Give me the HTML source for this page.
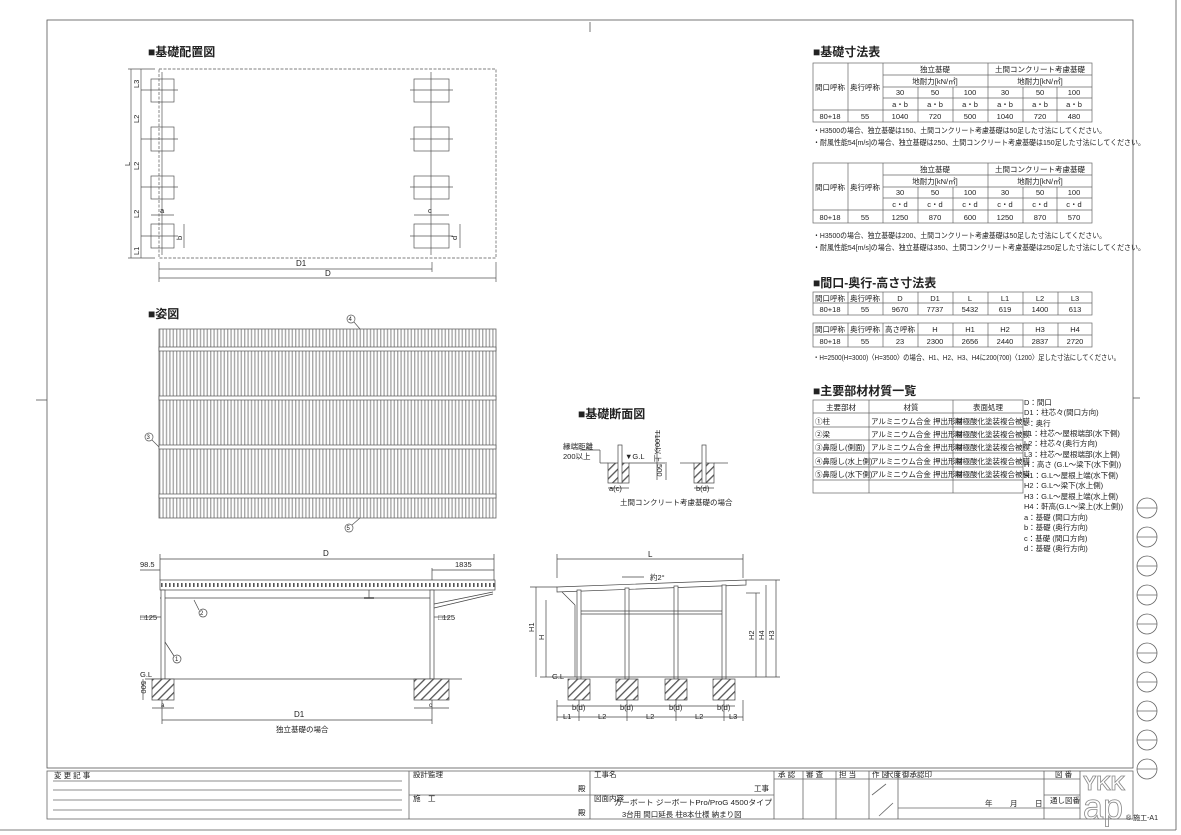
<!DOCTYPE html>
<html><head><meta charset="utf-8"><style>
html,body{margin:0;padding:0;background:#fff;}
svg{display:block;}
text{font-family:"Liberation Sans","Noto Sans CJK JP",sans-serif;fill:#222;}
.s{font-size:7.5px;}
.h{font-size:12px;font-weight:bold;}
</style></head><body>
<svg width="1181" height="835" viewBox="0 0 1181 835" xmlns="http://www.w3.org/2000/svg">
<defs>
<pattern id="roof" x="159" y="0" width="3.4" height="10" patternUnits="userSpaceOnUse">
<rect width="3.4" height="10" fill="#fff"/><rect x="0" width="1.4" height="10" fill="#a8a8a8"/>
</pattern>
<pattern id="hatch" width="6" height="6" patternUnits="userSpaceOnUse" patternTransform="rotate(45)">
<rect width="6" height="6" fill="#fff"/><rect width="1.3" height="6" fill="#555"/>
</pattern>
<pattern id="perf" x="160" y="580" width="4" height="10" patternUnits="userSpaceOnUse">
<rect width="4" height="10" fill="#fff"/><rect x="1" y="3" width="1.6" height="4" fill="#555"/>
</pattern>
</defs>
<g stroke="#555" stroke-width="0.8" fill="none">
<rect x="47" y="20" width="1086" height="748"/>
<line x1="1176" y1="0" x2="1176" y2="830"/>
<line x1="0" y1="830" x2="1176" y2="830"/>
<line x1="590" y1="22" x2="590" y2="32"/>
<line x1="36" y1="400" x2="47" y2="400"/>
<line x1="1133" y1="398" x2="1140" y2="398"/>
</g>
<g stroke="#666" stroke-width="0.8" fill="none">
<g id="c1"><circle cx="1147" cy="508" r="10"/><line x1="1137" y1="508" x2="1157" y2="508"/></g>
<use href="#c1" y="29"/><use href="#c1" y="58"/><use href="#c1" y="87"/><use href="#c1" y="116"/>
<use href="#c1" y="145"/><use href="#c1" y="174"/><use href="#c1" y="203"/><use href="#c1" y="232"/><use href="#c1" y="261"/>
</g>

<text x="148" y="56" class="h">■基礎配置図</text>
<g stroke="#555" stroke-width="0.7" fill="none">
<rect x="159" y="69" width="337" height="189" stroke-dasharray="3,1.5"/>
<g>
<rect x="151" y="79" width="23" height="23"/><rect x="151" y="127" width="23" height="24"/>
<rect x="151" y="176" width="23" height="23"/><rect x="151" y="224" width="23" height="24"/>
<rect x="414" y="79" width="35" height="23"/><rect x="414" y="127" width="35" height="24"/>
<rect x="414" y="176" width="35" height="23"/><rect x="414" y="224" width="35" height="24"/>
<line x1="162" y1="72" x2="162" y2="255"/><line x1="431" y1="72" x2="431" y2="255"/>
<line x1="141" y1="90" x2="178" y2="90"/><line x1="141" y1="139" x2="178" y2="139"/>
<line x1="141" y1="187" x2="178" y2="187"/><line x1="141" y1="236" x2="178" y2="236"/>
<line x1="410" y1="90" x2="453" y2="90"/><line x1="410" y1="139" x2="453" y2="139"/>
<line x1="410" y1="187" x2="453" y2="187"/><line x1="410" y1="236" x2="453" y2="236"/>
</g>
<line x1="131" y1="69" x2="131" y2="258"/><line x1="141" y1="69" x2="141" y2="258"/>
<line x1="128" y1="69" x2="155" y2="69"/><line x1="128" y1="258" x2="155" y2="258"/>
<line x1="151" y1="215" x2="174" y2="215"/><line x1="414" y1="215" x2="449" y2="215"/>
<line x1="184" y1="224" x2="184" y2="248"/><line x1="460" y1="224" x2="460" y2="248"/>
<line x1="159" y1="269" x2="432" y2="269"/><line x1="159" y1="278" x2="496" y2="278"/>
<line x1="159" y1="262" x2="159" y2="282"/><line x1="432" y1="262" x2="432" y2="272"/><line x1="496" y1="262" x2="496" y2="282"/>
</g>
<g class="s">
<text x="296" y="266" font-size="8">D1</text><text x="325" y="276" font-size="8">D</text>
<text x="160" y="213">a</text><text x="428" y="213">c</text>
<text transform="translate(139,88) rotate(-90)">L3</text>
<text transform="translate(139,123) rotate(-90)">L2</text>
<text transform="translate(139,170) rotate(-90)">L2</text>
<text transform="translate(139,218) rotate(-90)">L2</text>
<text transform="translate(139,255) rotate(-90)">L1</text>
<text transform="translate(130,166) rotate(-90)">L</text>
<text transform="translate(182,240) rotate(-90)">b</text>
<text transform="translate(457,240) rotate(-90)">d</text>
</g>

<text x="148" y="318" class="h">■姿図</text>
<rect x="159" y="329" width="337" height="189" fill="url(#roof)" stroke="#666" stroke-width="0.8"/>
<g fill="#fff" stroke="#555" stroke-width="0.7">
<rect x="159" y="347" width="337" height="4"/><rect x="159" y="396" width="337" height="4"/>
<rect x="159" y="445" width="337" height="4"/><rect x="159" y="494" width="337" height="4"/>
</g>
<g fill="none" stroke="#555" stroke-width="0.7">
<circle cx="351" cy="319" r="4"/><line x1="354" y1="322" x2="360" y2="329"/>
<circle cx="149" cy="437" r="4"/><line x1="152" y1="440" x2="159" y2="447"/>
<circle cx="349" cy="528" r="4"/><line x1="352" y1="525" x2="360" y2="518"/>
</g>
<g font-size="6"><text x="348.5" y="321">4</text><text x="146.5" y="439">3</text><text x="346.5" y="530">5</text></g>

<text x="578" y="418" class="h">■基礎断面図</text>
<g stroke="#444" stroke-width="0.7" fill="none">
<line x1="600" y1="463" x2="608" y2="463"/><line x1="629" y1="463" x2="665" y2="463"/>
<rect x="608" y="463" width="21" height="20" fill="url(#hatch)"/>
<rect x="618" y="445" width="4" height="38" fill="#fff"/>
<line x1="680" y1="463" x2="694" y2="463"/><line x1="714" y1="463" x2="728" y2="463"/>
<rect x="694" y="463" width="20" height="20" fill="url(#hatch)"/>
<rect x="702" y="445" width="4" height="38" fill="#fff"/>
<line x1="657" y1="430" x2="657" y2="480"/><line x1="666" y1="462" x2="666" y2="480"/>
<line x1="608" y1="488" x2="629" y2="488"/><line x1="694" y1="488" x2="714" y2="488"/>
<line x1="580" y1="450" x2="600" y2="450"/><line x1="600" y1="450" x2="600" y2="463"/>
</g>
<g class="s" font-size="7">
<text x="563" y="449">縁端距離</text><text x="563" y="459">200以上</text>
<text x="625" y="459">▼G.L</text>
<text transform="translate(655,430) rotate(90)">T100以上</text>
<text transform="translate(657,464) rotate(90)">500</text>
<text x="609" y="491">a(c)</text><text x="696" y="491">b(d)</text>
<text x="620" y="505">土間コンクリート考慮基礎の場合</text>
</g>

<g stroke="#444" stroke-width="0.7" fill="none">
<line x1="160" y1="559" x2="494" y2="559"/><line x1="160" y1="554" x2="160" y2="580"/><line x1="494" y1="554" x2="494" y2="580"/>
<line x1="432" y1="570" x2="494" y2="570"/><line x1="432" y1="568" x2="432" y2="580"/>
<line x1="140" y1="570" x2="160" y2="570"/>
<rect x="160" y="580" width="335" height="10" fill="url(#perf)"/>
<line x1="160" y1="598" x2="432" y2="598"/>
<line x1="369" y1="590" x2="369" y2="598"/><line x1="364" y1="598" x2="374" y2="598" stroke-width="1.5"/>
<rect x="161" y="590" width="4" height="89" fill="#fff"/>
<rect x="430" y="590" width="4" height="89" fill="#fff"/>
<line x1="434" y1="604" x2="493" y2="592"/><line x1="434" y1="608" x2="493" y2="594"/>
<line x1="145" y1="679" x2="462" y2="679"/>
<rect x="152" y="679" width="22" height="21" fill="url(#hatch)"/>
<rect x="414" y="679" width="35" height="21" fill="url(#hatch)"/>
<line x1="152" y1="708" x2="174" y2="708"/><line x1="414" y1="708" x2="449" y2="708"/>
<line x1="162" y1="720" x2="432" y2="720"/><line x1="162" y1="700" x2="162" y2="724"/><line x1="432" y1="700" x2="432" y2="724"/>
<line x1="140" y1="617" x2="161" y2="617"/><line x1="434" y1="617" x2="450" y2="617"/>
<circle cx="203" cy="613" r="4"/><line x1="199" y1="610" x2="194" y2="600"/>
<circle cx="177" cy="659" r="4"/><line x1="174" y1="656" x2="165" y2="642"/>
<line x1="143" y1="679" x2="143" y2="700"/>
</g>
<g class="s">
<text x="323" y="556" font-size="8">D</text><text x="140" y="567">98.5</text><text x="455" y="567">1835</text>
<text x="140" y="620">□125</text><text x="438" y="620">□125</text>
<text x="140" y="677">G.L</text>
<text transform="translate(141,681) rotate(90)">500</text>
<text x="161" y="707" font-size="6">a</text><text x="429" y="707" font-size="6">c</text>
<text x="294" y="717" font-size="8">D1</text>
<text x="276" y="732">独立基礎の場合</text>
<text x="200" y="615" font-size="6">2</text><text x="175" y="661" font-size="6">1</text>
</g>

<g stroke="#444" stroke-width="0.7" fill="none">
<line x1="557" y1="559" x2="743" y2="559"/><line x1="557" y1="554" x2="557" y2="578"/><line x1="743" y1="554" x2="743" y2="578"/>
<line x1="622" y1="577" x2="644" y2="577"/>
<polygon points="557,587 746,580 746,585 557,592" fill="#fff"/>
<line x1="562" y1="592" x2="575" y2="605"/><line x1="575" y1="605" x2="575" y2="677"/>
<rect x="577" y="590" width="4" height="89" fill="#fff"/>
<rect x="625" y="588" width="4" height="91" fill="#fff"/>
<rect x="674" y="586" width="4" height="93" fill="#fff"/>
<rect x="722" y="585" width="4" height="94" fill="#fff"/>
<line x1="581" y1="611" x2="722" y2="611"/><line x1="581" y1="614" x2="722" y2="614"/>
<line x1="540" y1="677" x2="780" y2="677"/>
<rect x="568" y="679" width="22" height="21" fill="url(#hatch)"/>
<rect x="616" y="679" width="22" height="21" fill="url(#hatch)"/>
<rect x="665" y="679" width="22" height="21" fill="url(#hatch)"/>
<rect x="713" y="679" width="22" height="21" fill="url(#hatch)"/>
<line x1="536" y1="587" x2="536" y2="677"/><line x1="546" y1="600" x2="546" y2="677"/>
<line x1="530" y1="587" x2="557" y2="587"/>
<line x1="756" y1="593" x2="756" y2="677"/><line x1="766" y1="585" x2="766" y2="677"/><line x1="776" y1="580" x2="776" y2="677"/>
<line x1="746" y1="593" x2="760" y2="593"/><line x1="746" y1="580" x2="780" y2="580"/>
<line x1="557" y1="706" x2="735" y2="706"/><line x1="557" y1="717" x2="743" y2="717"/>
<line x1="557" y1="700" x2="557" y2="721"/><line x1="579" y1="700" x2="579" y2="721"/><line x1="627" y1="700" x2="627" y2="721"/>
<line x1="676" y1="700" x2="676" y2="721"/><line x1="724" y1="700" x2="724" y2="721"/><line x1="743" y1="700" x2="743" y2="721"/>
</g>
<g class="s">
<text x="648" y="557" font-size="8">L</text><text x="650" y="580">約2°</text>
<text transform="translate(534,632) rotate(-90)">H1</text><text transform="translate(544,640) rotate(-90)">H</text>
<text transform="translate(754,640) rotate(-90)">H2</text><text transform="translate(764,640) rotate(-90)">H4</text><text transform="translate(774,640) rotate(-90)">H3</text>
<text x="552" y="679">G.L</text>
<text x="572" y="710">b(d)</text><text x="620" y="710">b(d)</text><text x="669" y="710">b(d)</text><text x="717" y="710">b(d)</text>
<text x="563" y="719">L1</text><text x="598" y="719">L2</text><text x="646" y="719">L2</text><text x="695" y="719">L2</text><text x="729" y="719">L3</text>
</g>

<g stroke="#666" stroke-width="0.7" fill="none">
<rect x="813" y="63" width="279" height="59"/>
<line x1="848" y1="63" x2="848" y2="122"/><line x1="883" y1="63" x2="883" y2="122"/><line x1="988" y1="63" x2="988" y2="122"/>
<line x1="918" y1="87" x2="918" y2="122"/><line x1="953" y1="87" x2="953" y2="122"/><line x1="1023" y1="87" x2="1023" y2="122"/><line x1="1057" y1="87" x2="1057" y2="122"/>
<line x1="883" y1="75" x2="1092" y2="75"/><line x1="883" y1="87" x2="1092" y2="87"/><line x1="883" y1="98" x2="1092" y2="98"/><line x1="813" y1="110" x2="1092" y2="110"/>
<rect x="813" y="163" width="279" height="60"/>
<line x1="848" y1="163" x2="848" y2="223"/><line x1="883" y1="163" x2="883" y2="223"/><line x1="988" y1="163" x2="988" y2="223"/>
<line x1="918" y1="187" x2="918" y2="223"/><line x1="953" y1="187" x2="953" y2="223"/><line x1="1023" y1="187" x2="1023" y2="223"/><line x1="1057" y1="187" x2="1057" y2="223"/>
<line x1="883" y1="175" x2="1092" y2="175"/><line x1="883" y1="187" x2="1092" y2="187"/><line x1="883" y1="198" x2="1092" y2="198"/><line x1="813" y1="210" x2="1092" y2="210"/>
<rect x="813" y="292" width="279" height="23"/><line x1="813" y1="303" x2="1092" y2="303"/>
<line x1="848" y1="292" x2="848" y2="315"/><line x1="883" y1="292" x2="883" y2="315"/><line x1="918" y1="292" x2="918" y2="315"/><line x1="953" y1="292" x2="953" y2="315"/><line x1="988" y1="292" x2="988" y2="315"/><line x1="1023" y1="292" x2="1023" y2="315"/><line x1="1058" y1="292" x2="1058" y2="315"/>
<rect x="813" y="323" width="279" height="24"/><line x1="813" y1="335" x2="1092" y2="335"/>
<line x1="848" y1="323" x2="848" y2="347"/><line x1="883" y1="323" x2="883" y2="347"/><line x1="918" y1="323" x2="918" y2="347"/><line x1="953" y1="323" x2="953" y2="347"/><line x1="988" y1="323" x2="988" y2="347"/><line x1="1023" y1="323" x2="1023" y2="347"/><line x1="1058" y1="323" x2="1058" y2="347"/>
<rect x="813" y="400" width="210" height="93"/>
<line x1="869" y1="400" x2="869" y2="493"/><line x1="953" y1="400" x2="953" y2="493"/>
<line x1="813" y1="413" x2="1023" y2="413"/><line x1="813" y1="427" x2="1023" y2="427"/><line x1="813" y1="440" x2="1023" y2="440"/><line x1="813" y1="453" x2="1023" y2="453"/><line x1="813" y1="467" x2="1023" y2="467"/><line x1="813" y1="480" x2="1023" y2="480"/>
</g>
<text x="813" y="56" class="h">■基礎寸法表</text>
<g class="s" font-size="7" text-anchor="middle">
<text x="830" y="90">間口呼称</text><text x="865" y="90">奥行呼称</text>
<text x="935" y="72">独立基礎</text><text x="1040" y="72">土間コンクリート考慮基礎</text>
<text x="935" y="84">地耐力[kN/㎡]</text><text x="1040" y="84">地耐力[kN/㎡]</text>
<text x="900" y="95">30</text><text x="935" y="95">50</text><text x="970" y="95">100</text><text x="1005" y="95">30</text><text x="1040" y="95">50</text><text x="1074" y="95">100</text>
<text x="900" y="107">a・b</text><text x="935" y="107">a・b</text><text x="970" y="107">a・b</text><text x="1005" y="107">a・b</text><text x="1040" y="107">a・b</text><text x="1074" y="107">a・b</text>
<text x="830" y="119">80+18</text><text x="865" y="119">55</text><text x="900" y="119">1040</text><text x="935" y="119">720</text><text x="970" y="119">500</text><text x="1005" y="119">1040</text><text x="1040" y="119">720</text><text x="1074" y="119">480</text>
<text x="830" y="190">間口呼称</text><text x="865" y="190">奥行呼称</text>
<text x="935" y="172">独立基礎</text><text x="1040" y="172">土間コンクリート考慮基礎</text>
<text x="935" y="184">地耐力[kN/㎡]</text><text x="1040" y="184">地耐力[kN/㎡]</text>
<text x="900" y="195">30</text><text x="935" y="195">50</text><text x="970" y="195">100</text><text x="1005" y="195">30</text><text x="1040" y="195">50</text><text x="1074" y="195">100</text>
<text x="900" y="207">c・d</text><text x="935" y="207">c・d</text><text x="970" y="207">c・d</text><text x="1005" y="207">c・d</text><text x="1040" y="207">c・d</text><text x="1074" y="207">c・d</text>
<text x="830" y="220">80+18</text><text x="865" y="220">55</text><text x="900" y="220">1250</text><text x="935" y="220">870</text><text x="970" y="220">600</text><text x="1005" y="220">1250</text><text x="1040" y="220">870</text><text x="1074" y="220">570</text>
<text x="830" y="301">間口呼称</text><text x="865" y="301">奥行呼称</text><text x="900" y="301">D</text><text x="935" y="301">D1</text><text x="970" y="301">L</text><text x="1005" y="301">L1</text><text x="1040" y="301">L2</text><text x="1075" y="301">L3</text>
<text x="830" y="312">80+18</text><text x="865" y="312">55</text><text x="900" y="312">9670</text><text x="935" y="312">7737</text><text x="970" y="312">5432</text><text x="1005" y="312">619</text><text x="1040" y="312">1400</text><text x="1075" y="312">613</text>
<text x="830" y="332">間口呼称</text><text x="865" y="332">奥行呼称</text><text x="900" y="332">高さ呼称</text><text x="935" y="332">H</text><text x="970" y="332">H1</text><text x="1005" y="332">H2</text><text x="1040" y="332">H3</text><text x="1075" y="332">H4</text>
<text x="830" y="344">80+18</text><text x="865" y="344">55</text><text x="900" y="344">23</text><text x="935" y="344">2300</text><text x="970" y="344">2656</text><text x="1005" y="344">2440</text><text x="1040" y="344">2837</text><text x="1075" y="344">2720</text>
<text x="841" y="410">主要部材</text><text x="911" y="410">材質</text><text x="988" y="410">表面処理</text>
</g>
<g class="s" font-size="7">
<text x="813" y="133" textLength="293" lengthAdjust="spacingAndGlyphs">・H3500の場合、独立基礎は150、土間コンクリート考慮基礎は50足した寸法にしてください。</text>
<text x="813" y="145" textLength="332" lengthAdjust="spacingAndGlyphs">・耐風性能54[m/s]の場合、独立基礎は250、土間コンクリート考慮基礎は150足した寸法にしてください。</text>
<text x="813" y="238" textLength="293" lengthAdjust="spacingAndGlyphs">・H3500の場合、独立基礎は200、土間コンクリート考慮基礎は50足した寸法にしてください。</text>
<text x="813" y="250" textLength="332" lengthAdjust="spacingAndGlyphs">・耐風性能54[m/s]の場合、独立基礎は350、土間コンクリート考慮基礎は250足した寸法にしてください。</text>
<text x="813" y="360" textLength="307" lengthAdjust="spacingAndGlyphs">・H=2500(H=3000)〈H=3500〉の場合、H1、H2、H3、H4に200(700)〈1200〉足した寸法にしてください。</text>
<text x="815" y="424">①柱</text><text x="815" y="437">②梁</text><text x="815" y="450">③鼻隠し(側面)</text><text x="815" y="464">④鼻隠し(水上側)</text><text x="815" y="477">⑤鼻隠し(水下側)</text>
<text x="871" y="424">アルミニウム合金 押出形材</text><text x="871" y="437">アルミニウム合金 押出形材</text><text x="871" y="450">アルミニウム合金 押出形材</text><text x="871" y="464">アルミニウム合金 押出形材</text><text x="871" y="477">アルミニウム合金 押出形材</text>
<text x="955" y="424">陽極酸化塗装複合被膜</text><text x="955" y="437">陽極酸化塗装複合被膜</text><text x="955" y="450">陽極酸化塗装複合被膜</text><text x="955" y="464">陽極酸化塗装複合被膜</text><text x="955" y="477">陽極酸化塗装複合被膜</text>
<text x="1024" y="405">D：間口</text>
<text x="1024" y="415">D1：柱芯々(間口方向)</text>
<text x="1024" y="426">L：奥行</text>
<text x="1024" y="436">L1：柱芯～屋根端部(水下側)</text>
<text x="1024" y="446">L2：柱芯々(奥行方向)</text>
<text x="1024" y="457">L3：柱芯～屋根端部(水上側)</text>
<text x="1024" y="467">H：高さ (G.L～梁下(水下側))</text>
<text x="1024" y="478">H1：G.L～屋根上端(水下側)</text>
<text x="1024" y="488">H2：G.L～梁下(水上側)</text>
<text x="1024" y="499">H3：G.L～屋根上端(水上側)</text>
<text x="1024" y="509">H4：軒高(G.L～梁上(水上側))</text>
<text x="1024" y="520">a：基礎 (間口方向)</text>
<text x="1024" y="530">b：基礎 (奥行方向)</text>
<text x="1024" y="541">c：基礎 (間口方向)</text>
<text x="1024" y="551">d：基礎 (奥行方向)</text>
</g>
<text x="813" y="287" class="h">■間口-奥行-高さ寸法表</text>
<text x="813" y="395" class="h">■主要部材材質一覧</text>

<g stroke="#666" stroke-width="0.8" fill="none">
<rect x="47" y="771" width="1086" height="48"/>
<line x1="409" y1="771" x2="409" y2="819"/><line x1="590" y1="771" x2="590" y2="819"/><line x1="774" y1="771" x2="774" y2="819"/>
<line x1="409" y1="795" x2="774" y2="795"/>
<line x1="803" y1="771" x2="803" y2="819"/><line x1="836" y1="771" x2="836" y2="819"/><line x1="869" y1="771" x2="869" y2="819"/><line x1="898" y1="771" x2="898" y2="819"/>
<line x1="774" y1="779" x2="1080" y2="779"/><line x1="898" y1="808" x2="1044" y2="808"/>
<line x1="1044" y1="771" x2="1044" y2="819"/><line x1="1080" y1="771" x2="1080" y2="819"/>
<line x1="1044" y1="795" x2="1080" y2="795"/><line x1="1044" y1="808" x2="1080" y2="808"/>
<line x1="53" y1="781" x2="402" y2="781"/><line x1="53" y1="790" x2="402" y2="790"/><line x1="53" y1="800" x2="402" y2="800"/><line x1="53" y1="810" x2="402" y2="810"/>
<line x1="872" y1="795" x2="886" y2="784"/><line x1="879" y1="816" x2="893" y2="803"/>
</g>
<g class="s" font-size="5.5">
<text x="54" y="778">変 更 記 事</text><text x="413" y="777">設計監理</text><text x="413" y="801">施　工</text>
<text x="594" y="777">工事名</text><text x="594" y="801">図面内容</text>
<text x="778" y="777">承 認</text><text x="806" y="777">審 査</text><text x="839" y="777">担 当</text><text x="872" y="777">作 図</text><text x="886" y="777">尺度</text>
<text x="902" y="777">御承認印</text><text x="1055" y="777">図 番</text><text x="1050" y="803">通し図番</text>
<text x="985" y="806">年</text><text x="1010" y="806">月</text><text x="1035" y="806">日</text>
</g>
<g class="s" font-size="9">
<text x="578" y="791">殿</text><text x="578" y="815">殿</text><text x="754" y="791">工事</text>
<text x="614" y="805" textLength="158" lengthAdjust="spacingAndGlyphs">カーボート ジーボートPro/ProG 4500タイプ</text>
<text x="622" y="817">3台用 間口延長 柱8本仕様 納まり図</text>
</g>
<text x="1083" y="790" font-size="20" font-weight="bold" fill="none" stroke="#888" stroke-width="0.8" style="fill:none">YKK</text>
<text x="1083" y="819" font-size="36" fill="none" stroke="#888" stroke-width="0.8" style="fill:none">ap</text>
<text x="1126" y="820" font-size="7">® 施工-A1</text>
</svg>
</body></html>
